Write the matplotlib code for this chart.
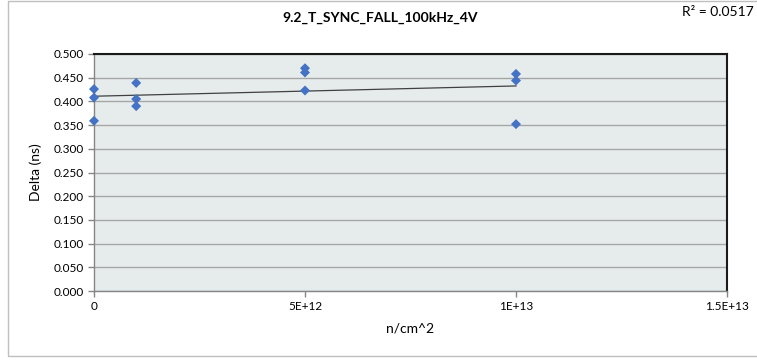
import matplotlib.pyplot as plt
import numpy as np
from matplotlib.patches import Rectangle

# data
fluence = [0, 0, 0, 1e12, 1e12, 1e12, 5e12, 5e12, 5e12, 1e13, 1e13, 1e13]
delta_ns = [0.426, 0.408, 0.359, 0.439, 0.405, 0.390,
            0.470, 0.461, 0.423, 0.458, 0.444, 0.352]
y_ticks = np.arange(0, 0.5001, 0.05)
x_ticks = [0, 5e12, 1e13, 1.5e13]
x_tick_labels = ["0", "5E+12", "1E+13", "1.5E+13"]
title = "9.2_T_SYNC_FALL_100kHz_4V"
r2_text = "R² = 0.0517"

plt.rcParams["font.family"] = ["Lato", "DejaVu Sans"]

fig = plt.figure(figsize=(7.57, 3.6), dpi=100)
ax = fig.add_axes([94 / 757, 1 - 291 / 360, (727 - 94) / 757, (291 - 54) / 360])

# outer chart border
fig.patches.append(Rectangle((8 / 757, 4 / 360), 760 / 757, 355 / 360,
                             transform=fig.transFigure, fill=False,
                             edgecolor="#BFBFBF", linewidth=1.0))

ax.set_facecolor("#E6ECEC")
ax.set_xlim(0, 1.5e13)
ax.set_ylim(0, 0.5)
ax.set_yticks(y_ticks)
ax.set_yticklabels([f"{v:.3f}" for v in y_ticks])
ax.set_xticks(x_ticks)
ax.set_xticklabels(x_tick_labels)
ax.grid(axis="y", color="#A6A6A6", linewidth=1.0)
ax.set_axisbelow(True)

for side in ("left", "bottom"):
    ax.spines[side].set_color("#868686")
    ax.spines[side].set_linewidth(1.0)
for side in ("top", "right"):
    ax.spines[side].set_color("#1A1A1A")
    ax.spines[side].set_linewidth(1.5)

ax.tick_params(axis="both", length=4, width=1.0, color="#868686",
               labelsize=8.5, colors="black")
ax.tick_params(axis="x", pad=3)

# linear trendline
slope, intercept = np.polyfit(fluence, delta_ns, 1)
xs = np.array([min(fluence), max(fluence)])
ax.plot(xs, slope * xs + intercept, color="#404040", linewidth=0.9, zorder=2)

ax.scatter(fluence, delta_ns, marker="D", s=26, color="#4472C4",
           edgecolors="none", zorder=3, clip_on=False)

ax.set_ylabel("Delta (ns)", fontsize=10, labelpad=8)
ax.set_xlabel("n/cm^2", fontsize=10, labelpad=8)

fig.text(380 / 757, 1 - 18 / 360, title, ha="center", va="center",
         fontsize=10, fontweight="bold")
fig.text(718 / 757, 1 - 12 / 360, r2_text, ha="center", va="center",
         fontsize=10)

fig.savefig("out.png", dpi=100, facecolor="white")
